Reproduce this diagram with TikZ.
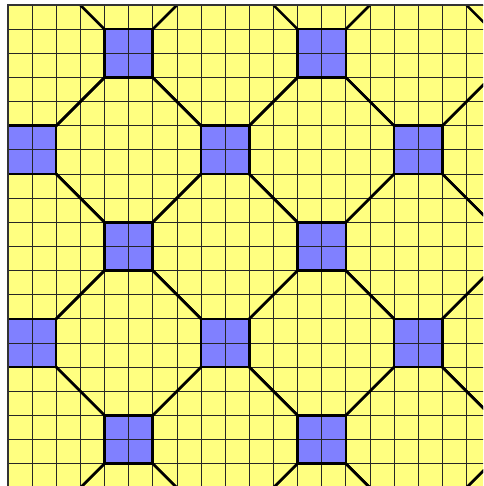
\documentclass[tikz,border=0pt]{standalone}
\usepackage{tikz}
\definecolor{tile_yellow}{RGB}{255, 255, 128}
\definecolor{tile_blue}{RGB}{128, 128, 255}
\tikzstyle{gridline}=[draw=black!85,line width=0.9pt]
\tikzstyle{sq}=[fill=tile_blue]
\tikzstyle{cut}=[draw=black,line width=3pt,line cap=round]
\tikzstyle{frame}=[draw=black!80,line width=2.6pt]

\begin{document}
\begin{tikzpicture}[x=1cm,y=-1cm]
            \useasboundingbox (-0.33,-0.21) rectangle (19.69,19.93);
            \clip (-0.33,-0.21) rectangle (19.69,19.93);
            \fill [tile_yellow] (0,0) rectangle (20,20);
            % squares of 2x2 cells
            \foreach \c/\r in {4/1,12/1,4/9,12/9,4/17,12/17,0/5,8/5,16/5,0/13,8/13,16/13}
                \fill [style=sq] (\c,\r) rectangle ++(2,2);
            \draw [style=gridline] (0,0) grid (20,20);
            % octagon sides
            \begin{scope}
                \clip (0,0) rectangle (20,20);
                \foreach \c/\r in {4/1,12/1,20/1,4/9,12/9,20/9,4/17,12/17,20/17,0/5,8/5,16/5,0/13,8/13,16/13,0/21,8/21,16/21}
                {
                    \draw [style=cut] (\c,\r) rectangle ++(2,2);
                    \draw [style=cut] (\c,\r) -- ++(-2,-2)
                        (\c+2,\r) -- ++(2,-2)
                        (\c,\r+2) -- ++(-2,2)
                        (\c+2,\r+2) -- ++(2,2);
                }
            \end{scope}
            \draw [style=frame] (0,0) rectangle (20,20);
    \end{tikzpicture}
\end{document}
